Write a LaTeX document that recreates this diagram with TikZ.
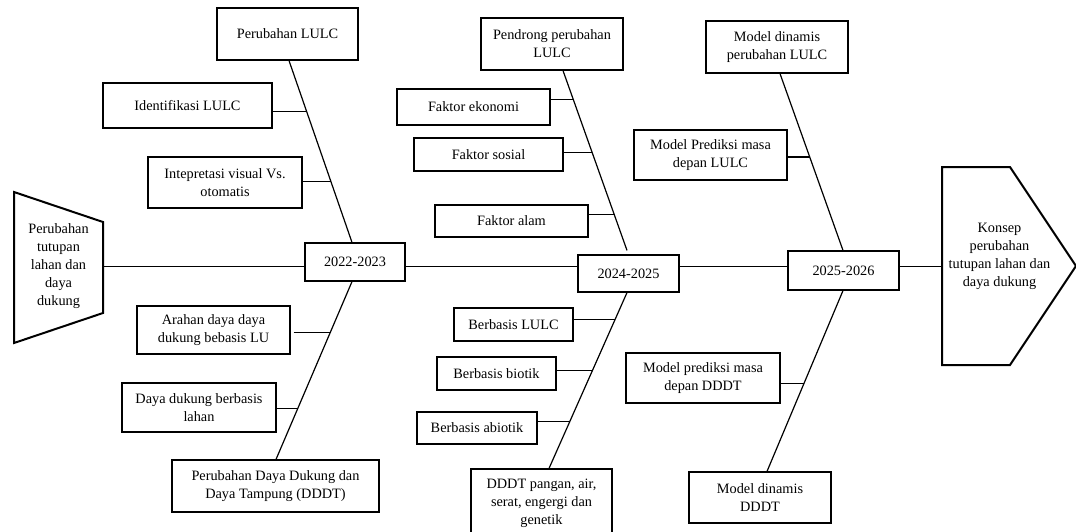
\documentclass[tikz,border=0pt]{standalone}
\usepackage{fontspec}
\setmainfont{Liberation Serif}
\usetikzlibrary{calc}
\begin{document}
\begin{tikzpicture}[x=1pt,y=-1pt,
  box/.style={draw,fill=white,line width=1.2pt,inner sep=0pt,align=center,font=\fontsize{14.3}{18}\selectfont},
  bone/.style={line width=1.2pt},
  twig/.style={line width=1.2pt},
  spine/.style={line width=1.8pt},
  head/.style={line width=2pt,line join=miter},
  headtext/.style={align=center,inner sep=0pt,font=\fontsize{14.3}{18}\selectfont}]
\useasboundingbox (0,0) rectangle (1076,531);

% head shapes
\coordinate (L1) at (14,192);
\coordinate (L2) at (103,222);
\coordinate (L3) at (103,313);
\coordinate (L4) at (14,343);
\draw[head] (L1) -- (L2) -- (L3) -- (L4) -- cycle;
\node[headtext] (L) at (58.5,266) {Perubahan\\tutupan\\lahan dan\\daya\\dukung};
\coordinate (R1) at (942,167);
\coordinate (R2) at (1010,167);
\coordinate (R3) at (1076,266);
\coordinate (R4) at (1010,365);
\coordinate (R5) at (942,365);
\draw[head] (R1) -- (R2) -- (R3) -- (R4) -- (R5) -- cycle;
\node[headtext] (R) at (999.5,256.5) {Konsep\\perubahan\\tutupan lahan dan\\daya dukung};

% year boxes
\coordinate (sp) at (0,266.5);
\coordinate (Lr) at (103,266.5);
\coordinate (Rl) at (942,266.5);
\node[box,minimum width=100pt,minimum height=38pt] (y1) at (355,262) {2022-2023};
\node[box,minimum width=101pt,minimum height=37pt] (y2) at (628.5,273.5) {2024-2025};
\node[box,minimum width=111pt,minimum height=39pt] (y3) at (843.5,270.5) {2025-2026};

% spine
\draw[spine] (Lr) -- (y1.west |- sp);
\draw[spine] (y1.east |- sp) -- (y2.west |- sp);
\draw[spine] (y2.east |- sp) -- (y3.west |- sp);
\draw[spine] (y3.east |- sp) -- (Rl);

% group 1 top
\node[box,minimum width=141pt,minimum height=52pt] (pl) at (287.5,34) {Perubahan LULC};
\node[box,minimum width=169pt,minimum height=45pt] (il) at (187.5,105.5) {Identifikasi LULC};
\node[box,minimum width=154pt,minimum height=51pt] (iv) at (225,182.5) {Intepretasi visual Vs.\\otomatis};
\coordinate (b1t) at ($(pl.south)+(1.5,0)$);
\coordinate (b1b) at ($(y1.north)+(-3,0)$);
\draw[bone] (b1t) -- (b1b);
\path (b1t) -- (b1b) coordinate[pos=0.282] (c11) coordinate[pos=0.663] (c12);
\draw[twig] (il.east |- c11) -- (c11);
\draw[twig] (iv.east |- c12) -- (c12);

% group 1 bottom
\node[box,minimum width=153pt,minimum height=48pt] (ar) at (213.5,330) {Arahan daya daya\\dukung bebasis LU};
\node[box,minimum width=154pt,minimum height=49pt] (dl) at (199,407.5) {Daya dukung berbasis\\lahan};
\node[box,minimum width=207pt,minimum height=52pt] (pd) at (275.5,486) {Perubahan Daya Dukung dan\\Daya Tampung (DDDT)};
\coordinate (b2t) at ($(y1.south)+(-3,0)$);
\coordinate (b2b) at ($(pd.north)+(0.5,0)$);
\draw[bone] (b2t) -- (b2b);
\path (b2t) -- (b2b) coordinate[pos=0.285] (c21) coordinate[pos=0.715] (c22);
\draw[twig] ($(ar.east |- c21)+(3,0)$) -- (c21);
\draw[twig] (dl.east |- c22) -- (c22);

% group 2 top
\node[box,minimum width=142pt,minimum height=52pt] (pp) at (552,44) {Pendrong perubahan\\LULC};
\node[box,minimum width=153pt,minimum height=36pt] (fe) at (473.5,107) {Faktor ekonomi};
\node[box,minimum width=149pt,minimum height=33pt] (fs) at (488.5,154.5) {Faktor sosial};
\node[box,minimum width=153pt,minimum height=32pt] (fa) at (511.5,221) {Faktor alam};
\coordinate (b3t) at ($(pp.south)+(11,0)$);
\coordinate (b3b) at ($(y2.north)+(-1.5,-4)$);
\draw[bone] (b3t) -- (b3b);
\path (b3t) -- (b3b) coordinate[pos=0.16] (c31) coordinate[pos=0.457] (c32) coordinate[pos=0.80] (c33);
\draw[twig] (fe.east |- c31) -- (c31);
\draw[twig] (fs.east |- c32) -- (c32);
\draw[twig] (fa.east |- c33) -- (c33);

% group 2 bottom
\node[box,minimum width=119pt,minimum height=33pt] (bl) at (513.5,324.5) {Berbasis LULC};
\node[box,minimum width=119pt,minimum height=33pt] (bb) at (496.5,373.5) {Berbasis biotik};
\node[box,minimum width=120pt,minimum height=32pt] (ba) at (477,428) {Berbasis abiotik};
\node[box,minimum width=141pt,minimum height=68pt] (dp) at (541.5,503) {DDDT pangan, air,\\serat, engergi dan\\genetik};
\coordinate (b4t) at ($(y2.south)+(-1.5,0)$);
\coordinate (b4b) at ($(dp.north)+(7.5,0)$);
\draw[bone] (b4t) -- (b4b);
\path (b4t) -- (b4b) coordinate[pos=0.153] (c41) coordinate[pos=0.441] (c42) coordinate[pos=0.734] (c43);
\draw[twig] (bl.east |- c41) -- (c41);
\draw[twig] (bb.east |- c42) -- (c42);
\draw[twig] (ba.east |- c43) -- (c43);

% group 3 top
\node[box,minimum width=142pt,minimum height=52pt] (md) at (777,47) {Model dinamis\\perubahan LULC};
\node[box,minimum width=153pt,minimum height=50pt] (mp) at (710.5,155) {Model Prediksi masa\\depan LULC};
\coordinate (b5t) at ($(md.south)+(3,0)$);
\coordinate (b5b) at ($(y3.north)+(-0.5,0)$);
\draw[bone] (b5t) -- (b5b);
\path (b5t) -- (b5b) coordinate[pos=0.472] (c51);
\draw[twig] (mp.east |- c51) -- (c51);

% group 3 bottom
\node[box,minimum width=154pt,minimum height=50pt] (mq) at (703,378) {Model prediksi masa\\depan DDDT};
\node[box,minimum width=142pt,minimum height=51pt] (mdd) at (760,497.5) {Model dinamis\\DDDT};
\coordinate (b6t) at ($(y3.south)+(-0.5,0)$);
\coordinate (b6b) at ($(mdd.north)+(7,0)$);
\draw[bone] (b6t) -- (b6b);
\path (b6t) -- (b6b) coordinate[pos=0.514] (c61);
\draw[twig] (mq.east |- c61) -- (c61);
\end{tikzpicture}
\end{document}
